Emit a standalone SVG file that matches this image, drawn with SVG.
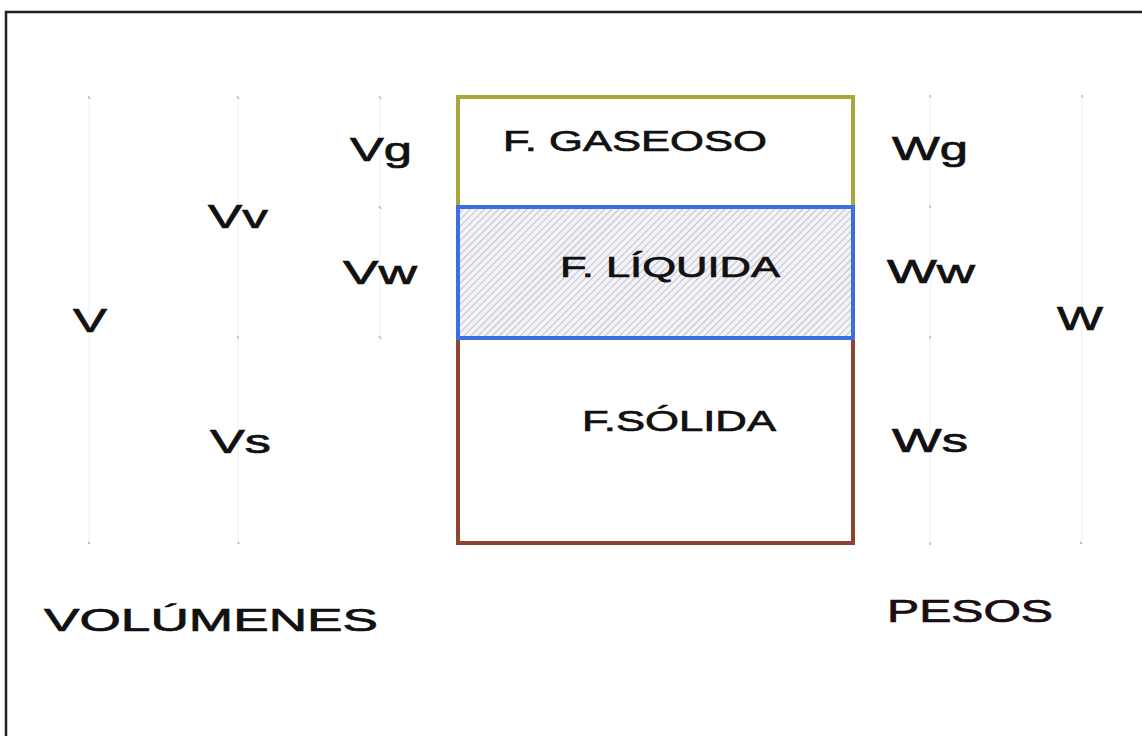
<svg xmlns="http://www.w3.org/2000/svg" width="1142" height="736" viewBox="0 0 1142 736">
<defs>
<style>
.t{font-family:"Liberation Sans",Arial,sans-serif;fill:#111;stroke:#111;stroke-width:0.7px;}
.phase{font-size:29px;}
.sym{font-size:33px;}
.big{font-size:32px;}
.dim{stroke:#f1f1f4;stroke-width:1;fill:none;}
.tick{stroke:#a6a6b0;stroke-width:1.2;}
</style>
<pattern id="hatch" patternUnits="userSpaceOnUse" width="5" height="5" patternTransform="rotate(45)">
<rect width="5" height="5" fill="#f3f3f7"/>
<line x1="0" y1="0" x2="0" y2="5" stroke="#a9adbd" stroke-width="1.4"/>
</pattern>
</defs>
<rect width="1142" height="736" fill="#fff"/>
<g id="frame">
<path d="M1142 12 H6 V736" fill="none" stroke="#222" stroke-width="2.5"/>
</g>
<g id="connectors">
<line class="dim" x1="89" y1="98" x2="89" y2="543"/>
<line class="dim" x1="238" y1="98" x2="238" y2="543"/>
<line class="dim" x1="380" y1="98" x2="380" y2="338"/>
<line class="dim" x1="930" y1="98" x2="930" y2="543"/>
<line class="dim" x1="1082" y1="98" x2="1082" y2="543"/>
<line class="tick" x1="88" y1="96" x2="90" y2="99"/>
<line class="tick" x1="237" y1="96" x2="239" y2="99"/>
<line class="tick" x1="379" y1="96" x2="381" y2="99"/>
<line class="tick" x1="379" y1="206" x2="381" y2="209"/>
<line class="tick" x1="379" y1="336" x2="381" y2="339"/>
<line class="tick" x1="238" y1="336" x2="238" y2="339"/>
<line class="tick" x1="88" y1="542" x2="90" y2="544"/>
<line class="tick" x1="238" y1="542" x2="239" y2="544"/>
<line class="tick" x1="930" y1="95" x2="930" y2="98"/>
<line class="tick" x1="1082" y1="95" x2="1082" y2="98"/>
<line class="tick" x1="930" y1="205" x2="930" y2="208"/>
<line class="tick" x1="930" y1="336" x2="930" y2="339"/>
<line class="tick" x1="930" y1="542" x2="930" y2="545"/>
<line class="tick" x1="1080" y1="542" x2="1082" y2="544"/>
</g>
<g id="fase-gaseosa">
<path d="M458 207 V97 H853 V207" fill="#fff" stroke="#aaa83a" stroke-width="4"/>
<text class="t phase" x="503" y="151" textLength="264" lengthAdjust="spacingAndGlyphs">F. GASEOSO</text>
</g>
<g id="fase-solida">
<path d="M458 338 V543 H853 V338" fill="#fff" stroke="#8e4430" stroke-width="4"/>
<text class="t phase" x="582" y="431" textLength="194" lengthAdjust="spacingAndGlyphs">F.SÓLIDA</text>
</g>
<g id="fase-liquida">
<rect x="458" y="207" width="395" height="131" fill="url(#hatch)" stroke="#3a6fe0" stroke-width="4"/>
<text class="t phase" x="560" y="277" textLength="220" lengthAdjust="spacingAndGlyphs">F. LÍQUIDA</text>
</g>
<g id="volumenes">
<text class="t sym" x="350" y="161" textLength="62" lengthAdjust="spacingAndGlyphs">Vg</text>
<text class="t sym" x="208" y="228" textLength="60" lengthAdjust="spacingAndGlyphs">Vv</text>
<text class="t sym" x="343" y="284" textLength="74" lengthAdjust="spacingAndGlyphs">Vw</text>
<text class="t sym" x="73" y="332" textLength="34" lengthAdjust="spacingAndGlyphs">V</text>
<text class="t sym" x="210" y="453" textLength="61" lengthAdjust="spacingAndGlyphs">Vs</text>
<text class="t big" x="44" y="631" textLength="334" lengthAdjust="spacingAndGlyphs">VOLÚMENES</text>
</g>
<g id="pesos">
<text class="t sym" x="892" y="160" textLength="76" lengthAdjust="spacingAndGlyphs">Wg</text>
<text class="t sym" x="887" y="283" textLength="88" lengthAdjust="spacingAndGlyphs">Ww</text>
<text class="t sym" x="1057" y="330" textLength="46" lengthAdjust="spacingAndGlyphs">W</text>
<text class="t sym" x="892" y="452" textLength="76" lengthAdjust="spacingAndGlyphs">Ws</text>
<text class="t big" x="887" y="622" textLength="166" lengthAdjust="spacingAndGlyphs" style="fill:#1a0d14;stroke:#1a0d14">PESOS</text>
</g>
</svg>
